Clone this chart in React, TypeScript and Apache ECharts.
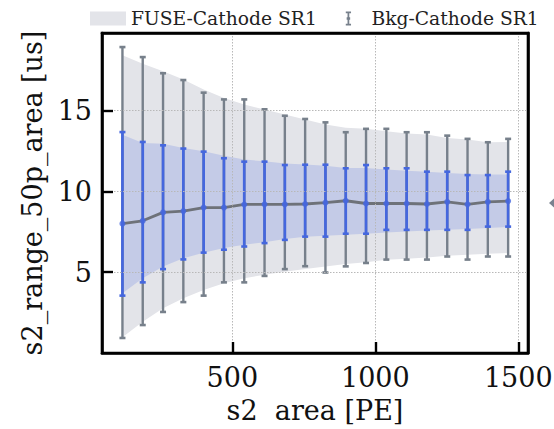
import React, { useEffect, useRef } from 'react';
import * as echarts from 'echarts';

// bin centres of s2 area [PE]
const xCenters = [115.5, 186.5, 257.5, 328.5, 399.5, 470.5, 541.5, 612.5, 683.5, 754.5, 825.5, 896.5, 967.5, 1038.5, 1109.5, 1180.5, 1251.5, 1322.5, 1393.5, 1464.5];

// mean of s2_range_50p_area [us]
const meanVals = [8.0, 8.18, 8.7, 8.78, 9.0, 9.0, 9.19, 9.2, 9.2, 9.22, 9.3, 9.42, 9.25, 9.25, 9.25, 9.22, 9.35, 9.2, 9.35, 9.4];

// Bkg-Cathode SR1 outer error bars (grey)
const bkgLow = [0.93, 1.73, 2.54, 3.15, 3.55, 4.37, 4.37, 4.77, 5.19, 5.37, 4.98, 5.36, 5.57, 5.78, 5.78, 5.78, 5.97, 5.78, 5.97, 5.97];
const bkgHigh = [18.93, 18.31, 17.31, 16.89, 16.11, 15.69, 15.69, 15.08, 14.68, 14.48, 14.27, 13.66, 13.87, 13.87, 13.66, 13.66, 13.45, 13.25, 13.04, 13.25];

// inner error bars (blue)
const innerLow = [3.55, 4.37, 5.19, 5.79, 6.21, 6.39, 6.59, 6.8, 7.0, 7.2, 7.2, 7.38, 7.38, 7.62, 7.62, 7.62, 7.62, 7.62, 7.82, 7.82];
const innerHigh = [13.67, 13.06, 12.85, 12.65, 12.46, 12.05, 11.84, 11.84, 11.63, 11.65, 11.65, 11.43, 11.63, 11.43, 11.43, 11.22, 11.22, 11.01, 11.01, 11.22];

// FUSE-Cathode SR1 bands
const fuseLow = [0.97, 1.94, 2.77, 3.39, 3.9, 4.32, 4.63, 4.84, 5.02, 5.2, 5.35, 5.5, 5.62, 5.77, 5.83, 5.91, 6.01, 6.08, 6.14, 6.18];
const fuseHigh = [18.43, 17.9, 17.44, 16.92, 16.3, 15.78, 15.37, 15.07, 14.75, 14.45, 14.14, 13.93, 13.87, 13.72, 13.58, 13.52, 13.31, 13.21, 13.04, 13.06];
const fuseInnerLow = [3.7, 4.63, 5.35, 5.87, 6.2, 6.49, 6.7, 6.86, 7.05, 7.19, 7.25, 7.32, 7.38, 7.46, 7.52, 7.58, 7.63, 7.67, 7.73, 7.79];
const fuseInnerHigh = [13.5, 13.0, 12.94, 12.69, 12.48, 12.21, 11.97, 11.86, 11.72, 11.67, 11.59, 11.45, 11.45, 11.35, 11.28, 11.22, 11.14, 11.08, 11.04, 11.04];

const xTickValues = [500, 1000, 1500];

const FONT = 'DejaVu Serif';
const GREY_BAND = '#e3e4e9';
const BLUE_BAND = '#c4cbe7';
const GREY_BAR = '#77808b';
const BLUE_BAR = '#4567de';
const MEAN_LINE = '#6e7279';

function errorBarRenderer(color: string, lw: number, capW: number) {
  return (params: any, api: any) => {
    const x = api.value(0);
    const lo = api.value(1);
    const hi = api.value(2);
    const pLo = api.coord([x, lo]);
    const pHi = api.coord([x, hi]);
    const st = { stroke: color, lineWidth: lw };
    const cs = { stroke: color, lineWidth: 2.6 };
    return {
      type: 'group',
      children: [
        { type: 'line', shape: { x1: pLo[0], y1: pLo[1], x2: pHi[0], y2: pHi[1] }, style: st },
        { type: 'line', shape: { x1: pLo[0] - capW, y1: pLo[1], x2: pLo[0] + capW, y2: pLo[1] }, style: cs },
        { type: 'line', shape: { x1: pHi[0] - capW, y1: pHi[1], x2: pHi[0] + capW, y2: pHi[1] }, style: cs },
      ],
    };
  };
}

// draws the whole band as one polygon (from all data items, through api.coord)
function bandRenderer(lows: number[], highs: number[], color: string) {
  return (params: any, api: any) => {
    if (params.dataIndex !== 0) return null;
    const upper = xCenters.map((x, i) => api.coord([x, highs[i]]));
    const lower = xCenters.map((x, i) => api.coord([x, lows[i]])).reverse();
    return {
      type: 'polygon',
      shape: { points: upper.concat(lower) },
      style: { fill: color, stroke: null },
    };
  };
}

export default function App() {
  const ref = useRef<HTMLDivElement>(null);

  useEffect(() => {
    const chart = echarts.init(ref.current!, null, { renderer: 'svg' });

    const axisFrame = { show: true, onZero: false, lineStyle: { color: '#000', width: 2.6 } };

    const option: any = {
      animation: false,
      backgroundColor: '#ffffff',
      textStyle: { fontFamily: FONT },
      legend: {
        left: 85,
        top: 4,
        itemWidth: 36,
        itemHeight: 14,
        itemGap: 29,
        selectedMode: false,
        textStyle: { fontFamily: FONT, fontSize: 18.7, color: '#222' },
        data: [
          { name: 'FUSE-Cathode SR1', icon: 'rect', itemStyle: { color: GREY_BAND } },
          {
            name: 'Bkg-Cathode SR1',
            icon: 'path://M0,0H6V2H4V6.5H5V9.5H4V14H6V16H0V14H2V9.5H1V6.5H2V2H0Z',
            itemStyle: { color: GREY_BAR },
          },
        ],
      },
      grid: {
        left: 102,
        top: 33,
        width: 426,
        height: 320,
        show: true,
        backgroundColor: 'transparent',
        borderColor: '#000',
        borderWidth: 2.6,
        containLabel: false,
        outerBoundsMode: 'none',
      },
      xAxis: [
        {
          type: 'value',
          position: 'bottom',
          min: 44,
          max: 1534,
          name: 's2\u00a0 area [PE]',
          nameLocation: 'middle',
          nameGap: 44,
          nameTextStyle: { fontFamily: FONT, fontSize: 27, color: '#111' },
          axisLine: axisFrame,
          axisTick: {
            show: true,
            inside: true,
            length: 11,
            lineStyle: { color: '#000', width: 2.4 },
            customValues: xTickValues,
          },
          axisLabel: {
            fontFamily: FONT,
            fontSize: 27,
            color: '#111',
            margin: 11,
            customValues: xTickValues,
            formatter: (v: number) => String(v),
          },
          splitLine: { show: true, lineStyle: { color: '#b8b8b8', width: 1, type: [1.5, 1.5] } },
          z: 10,
        },
        {
          type: 'value',
          position: 'top',
          min: 44,
          max: 1534,
          axisLine: axisFrame,
          axisTick: { show: false },
          axisLabel: { show: false },
          splitLine: { show: false },
          z: 10,
        },
      ],
      yAxis: [
        {
          type: 'value',
          position: 'left',
          min: 0,
          max: 19.8,
          interval: 5,
          name: 's2_range_50p_area [us]',
          nameLocation: 'middle',
          nameGap: 56,
          nameRotate: 90,
          nameTextStyle: { fontFamily: FONT, fontSize: 27, color: '#111' },
          axisLine: axisFrame,
          axisTick: { show: true, inside: true, length: 11, lineStyle: { color: '#000', width: 2.4 } },
          axisLabel: {
            fontFamily: FONT,
            fontSize: 27,
            color: '#111',
            margin: 10,
            showMinLabel: false,
            showMaxLabel: false,
          },
          splitLine: { show: true, lineStyle: { color: '#b8b8b8', width: 1, type: [1.5, 1.5] } },
          z: 10,
        },
        {
          type: 'value',
          position: 'right',
          min: 0,
          max: 19.8,
          axisLine: axisFrame,
          axisTick: { show: false },
          axisLabel: { show: false },
          splitLine: { show: false },
          z: 10,
        },
      ],
      series: [
        {
          name: 'FUSE-Cathode SR1',
          type: 'custom',
          renderItem: bandRenderer(fuseLow, fuseHigh, GREY_BAND),
          itemStyle: { color: GREY_BAND },
          encode: { x: 0, y: [1, 2] },
          data: xCenters.map((x, i) => [x, fuseLow[i], fuseHigh[i]]),
          silent: true,
          z: 1,
        },
        {
          name: 'fuseInner',
          type: 'custom',
          renderItem: bandRenderer(fuseInnerLow, fuseInnerHigh, BLUE_BAND),
          itemStyle: { color: BLUE_BAND },
          encode: { x: 0, y: [1, 2] },
          data: xCenters.map((x, i) => [x, fuseInnerLow[i], fuseInnerHigh[i]]),
          silent: true,
          z: 2,
        },
        {
          name: 'Bkg-Cathode SR1',
          type: 'custom',
          renderItem: errorBarRenderer(GREY_BAR, 2.4, 3),
          itemStyle: { color: GREY_BAR },
          encode: { x: 0, y: [1, 2] },
          data: xCenters.map((x, i) => [x, bkgLow[i], bkgHigh[i]]),
          z: 3,
        },
        {
          name: 'mean',
          type: 'line',
          data: xCenters.map((x, i) => [x, meanVals[i]]),
          symbol: 'none',
          lineStyle: { color: MEAN_LINE, width: 2.8 },
          z: 4,
        },
        {
          name: 'inner',
          type: 'custom',
          renderItem: errorBarRenderer(BLUE_BAR, 2.7, 3),
          itemStyle: { color: BLUE_BAR },
          encode: { x: 0, y: [1, 2] },
          data: xCenters.map((x, i) => [x, innerLow[i], innerHigh[i]]),
          z: 5,
        },
        {
          name: 'innerMean',
          type: 'scatter',
          data: xCenters.map((x, i) => [x, meanVals[i]]),
          symbol: 'circle',
          symbolSize: 6,
          itemStyle: { color: BLUE_BAR },
          z: 6,
        },
      ],
      graphic: [
        {
          type: 'polygon',
          shape: { points: [[549, 203], [555, 197.5], [555, 208.5]] },
          style: { fill: '#7a8290' },
        },
      ],
    };

    chart.setOption(option);
    return () => chart.dispose();
  }, []);

  return (
    <div
      ref={ref}
      style={{ position: 'fixed', left: 0, top: 0, width: 554, height: 429, background: '#fff' }}
    />
  );
}
